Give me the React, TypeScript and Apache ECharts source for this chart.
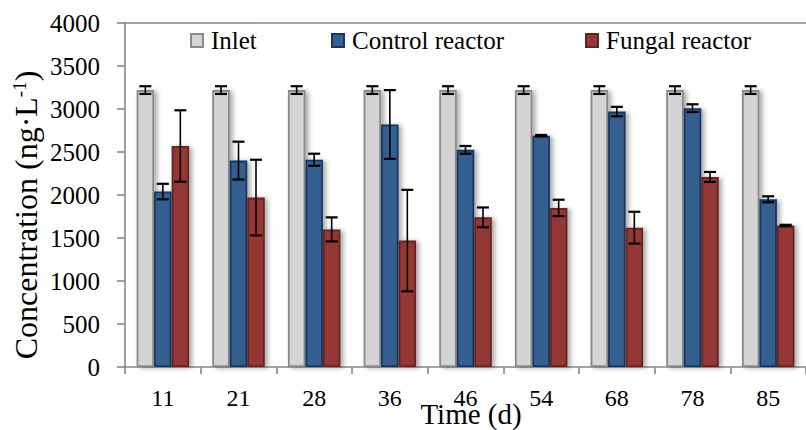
import React, { useEffect, useRef } from "react";
import * as echarts from "echarts";

const categories = ["11", "21", "28", "36", "46", "54", "68", "78", "85"];
const inlet = [3220, 3220, 3220, 3220, 3220, 3220, 3220, 3220, 3220];
const inletErr = [45, 45, 45, 45, 45, 45, 45, 45, 45];
const control = [2040, 2400, 2410, 2820, 2525, 2690, 2970, 3010, 1950];
const controlErr = [90, 220, 70, 400, 45, 8, 55, 45, 35];
const fungal = [2570, 1970, 1600, 1470, 1740, 1850, 1620, 2210, 1645];
const fungalErr = [415, 440, 140, 590, 115, 95, 185, 58, 8];
const yTicks = [0, 500, 1000, 1500, 2000, 2500, 3000, 3500, 4000];

const FONT = "'Liberation Serif', 'Times New Roman', serif";
const AXIS = "#878787";
const BAR_W = 17.5;

function errSeries(name: string, vals: number[], errs: number[], offset: number) {
  return {
    type: "custom",
    name,
    z: 10,
    silent: true,
    data: vals.map((v, i) => [i, v, errs[i]]),
    encode: { x: 0, y: 1 },
    renderItem: (params: any, api: any) => {
      const i = api.value(0);
      const v = api.value(1);
      const e = api.value(2);
      const hi = api.coord([i, v + e]);
      const lo = api.coord([i, v - e]);
      const x = hi[0] + offset;
      const hw = 6;
      return {
        type: "group",
        children: [
          { type: "line", shape: { x1: x, y1: hi[1], x2: x, y2: lo[1] }, style: { stroke: "#000", lineWidth: 1.6 } },
          { type: "line", shape: { x1: x - hw, y1: hi[1], x2: x + hw, y2: hi[1] }, style: { stroke: "#000", lineWidth: 2.2 } },
          { type: "line", shape: { x1: x - hw, y1: lo[1], x2: x + hw, y2: lo[1] }, style: { stroke: "#000", lineWidth: 2.2 } },
        ],
      };
    },
  };
}

function barSeries(name: string, vals: number[], fill: string, border: string) {
  return {
    type: "bar",
    name,
    data: vals,
    barWidth: BAR_W,
    barGap: "0%",
    itemStyle: {
      color: fill,
      borderColor: border,
      borderWidth: 1.8,
      shadowColor: "rgba(0,0,0,0.35)",
      shadowBlur: 5,
      shadowOffsetX: 3,
      shadowOffsetY: 1,
    },
  };
}

export default function App() {
  const ref = useRef<HTMLDivElement>(null);
  useEffect(() => {
    document.body.style.margin = "0";
    const chart = echarts.init(ref.current!, null, { renderer: "svg" });
    const legendCommon = {
      padding: 0,
      itemWidth: 12,
      itemHeight: 13,
      icon: "rect",
      top: 28,
      textStyle: { fontFamily: FONT, fontSize: 25, color: "#000", padding: [0, 0, 0, 3] },
    };
    chart.setOption({
      animation: false,
      backgroundColor: "#fff",
      textStyle: { fontFamily: FONT },
      grid: { left: 125, right: -10, top: 23, bottom: 63 },
      legend: [
        { ...legendCommon, data: ["Inlet"], left: 190 },
        { ...legendCommon, data: ["Control reactor"], left: 331 },
        { ...legendCommon, data: ["Fungal reactor"], left: 585 },
      ],
      xAxis: [
        {
          type: "category",
          data: categories,
          axisLine: { show: true, lineStyle: { color: AXIS, width: 1.6 } },
          axisTick: { show: true, length: 7, lineStyle: { color: AXIS, width: 1.6 } },
          axisLabel: { color: "#000", fontFamily: FONT, fontSize: 24, margin: 19 },
        },
        {
          type: "category",
          data: categories,
          position: "top",
          axisLine: { show: true, lineStyle: { color: AXIS, width: 1.6 } },
          axisTick: { show: false },
          axisLabel: { show: false },
        },
      ],
      yAxis: {
        type: "value",
        min: yTicks[0],
        max: yTicks[yTicks.length - 1],
        interval: yTicks[1] - yTicks[0],
        axisLine: { show: true, lineStyle: { color: AXIS, width: 1.6 } },
        axisTick: { show: true, length: 8, lineStyle: { color: AXIS, width: 1.6 } },
        splitLine: { show: false },
        axisLabel: {
          color: "#000",
          fontFamily: FONT,
          fontSize: 25,
          margin: 25,
          formatter: (v: number) => String(v),
        },
      },
      graphic: [
        {
          type: "text",
          x: 471,
          y: 414,
          style: {
            text: "Time (d)",
            font: `29px ${FONT}`,
            fill: "#000",
            align: "center",
            verticalAlign: "middle",
          },
        },
        {
          type: "text",
          x: 26,
          y: 215,
          rotation: Math.PI / 2,
          style: {
            text: "{a|Concentration (ng·L}{s|-1}{a|)}",
            align: "center",
            verticalAlign: "middle",
            rich: {
              a: { fontFamily: FONT, fontSize: 32, fill: "#000", color: "#000" },
              s: { fontFamily: FONT, fontSize: 19, fill: "#000", color: "#000", verticalAlign: "top" },
            },
          },
        },
      ],
      series: [
        barSeries("Inlet", inlet, "#d4d4d4", "#8a8a8a"),
        barSeries("Control reactor", control, "#365f91", "#17375e"),
        barSeries("Fungal reactor", fungal, "#953735", "#632523"),
        errSeries("err-inlet", inlet, inletErr, -BAR_W),
        errSeries("err-control", control, controlErr, 0),
        errSeries("err-fungal", fungal, fungalErr, BAR_W),
      ],
    });
    return () => chart.dispose();
  }, []);
  return <div ref={ref} style={{ width: 806, height: 430 }} />;
}
